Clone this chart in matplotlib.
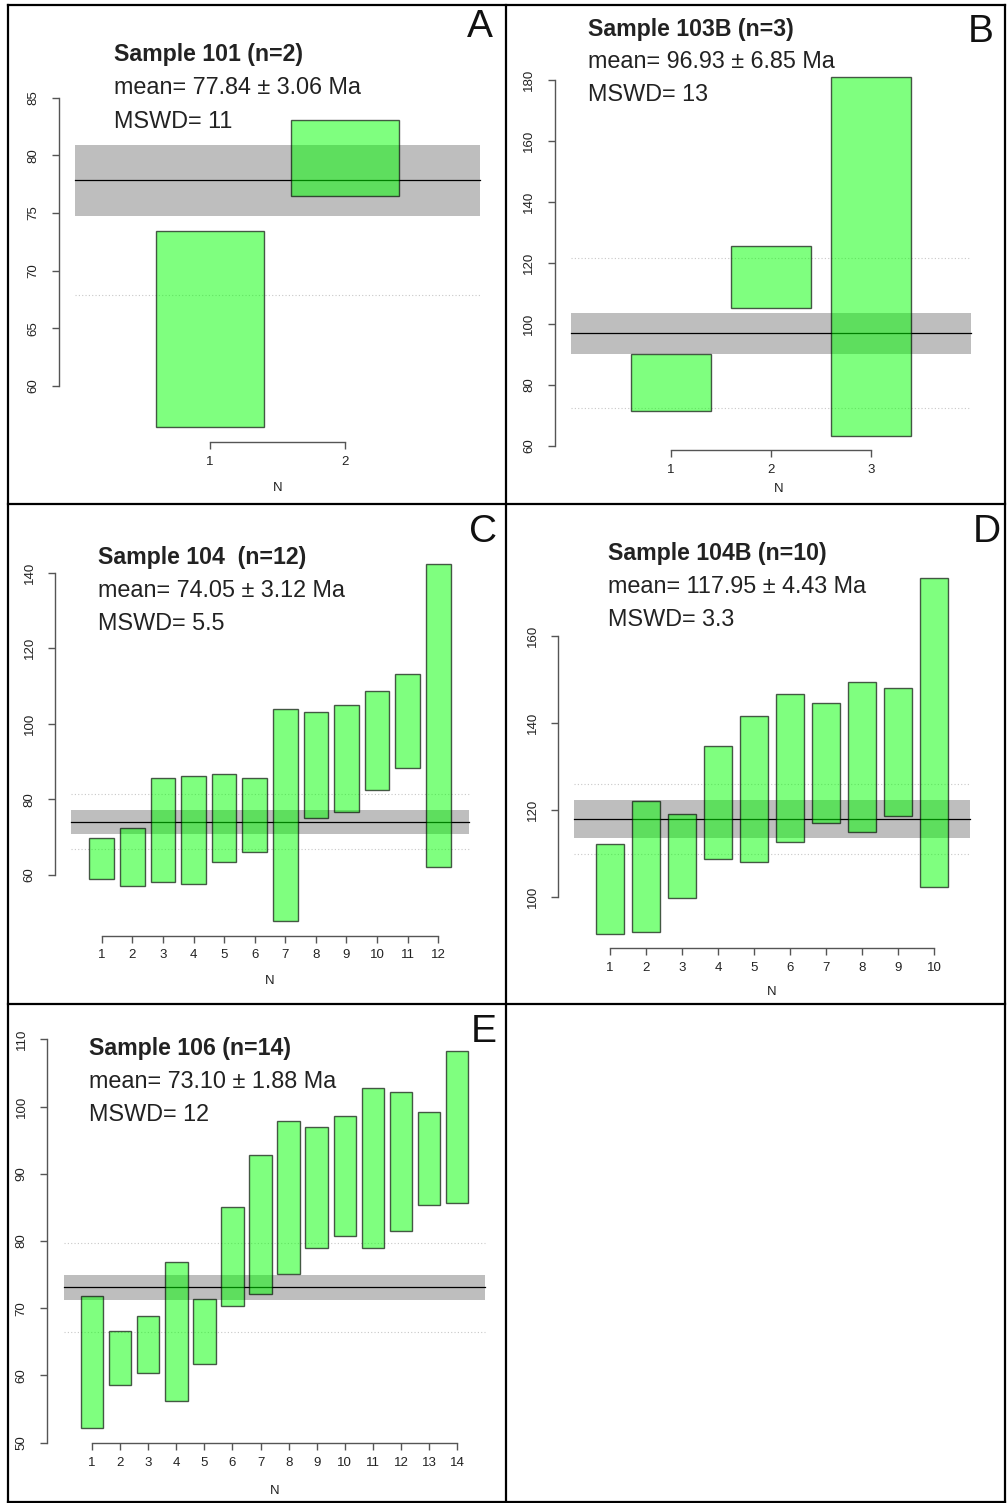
import numpy as np
import matplotlib
matplotlib.use("Agg")
import matplotlib.pyplot as plt
from matplotlib.lines import Line2D

plt.rcParams['font.family'] = ['Liberation Sans', 'DejaVu Sans']

W, H = 1008, 1503

# ---- data: lower / upper limits of each analysis (Ma) ----
s101_lo = [56.42, 76.47]
s101_hi = [73.44, 83.07]

s103b_lo = [71.38, 105.29, 63.40]
s103b_hi = [90.19, 125.63, 181.20]

s104_lo = [59.03, 57.00, 58.24, 57.71, 63.35, 66.00, 47.74, 75.00, 76.76, 82.49, 88.31, 62.03]
s104_hi = [69.79, 72.35, 85.76, 86.20, 86.64, 85.67, 103.84, 103.04, 104.90, 108.69, 113.27, 142.20]

s104b_lo = [91.56, 92.02, 99.69, 108.67, 107.98, 112.74, 116.96, 114.96, 118.57, 102.38]
s104b_hi = [112.28, 122.02, 119.10, 134.68, 141.66, 146.65, 144.58, 149.49, 148.18, 173.35]

s106_lo = [52.13, 58.53, 60.36, 56.15, 61.65, 70.38, 72.17, 75.04, 79.01, 80.79, 78.91, 81.49, 85.41, 85.65]
s106_hi = [71.82, 66.61, 68.89, 76.88, 71.42, 85.11, 92.84, 97.90, 97.01, 98.60, 102.71, 102.21, 99.19, 108.21]

# weighted means, uncertainties, MSWD and dotted-line spread
titles = ["Sample 101 (n=2)", "Sample 103B (n=3)", "Sample 104  (n=12)",
          "Sample 104B (n=10)", "Sample 106 (n=14)"]
means = [77.84, 96.93, 74.05, 117.95, 73.10]
errs = [3.06, 6.85, 3.12, 4.43, 1.88]
mswd_labels = ["11", "13", "5.5", "3.3", "12"]
spreads = [9.98, 24.6, 7.3, 8.0, 6.6]
letters = ["A", "B", "C", "D", "E"]
yticks = [np.arange(60, 86, 5), np.arange(60, 181, 20), np.arange(60, 141, 20),
          np.arange(100, 161, 20), np.arange(50, 111, 10)]

lows = [s101_lo, s103b_lo, s104_lo, s104b_lo, s106_lo]
highs = [s101_hi, s103b_hi, s104_hi, s104b_hi, s106_hi]

# ---- layout: y ranges and axes boxes (pixels: left, right, top, bottom) ----
ylims = [(55.1, 86.5), (58.69, 185.91), (43.96, 145.98), (88.29, 176.62), (49.89, 110.45)]
boxes = [(58.8, 496.2, 80.4, 442.4),
         (554.7, 986.7, 62.3, 449.9),
         (55.2, 484.8, 550.1, 935.6),
         (558.2, 985.9, 564.1, 947.8),
         (47.1, 502.0, 1036.3, 1443.4)]
text_pos = [(114, (55, 88, 121)),
            (588.3, (29.3, 61.7, 94.3)),
            (97.7, (557.3, 590.7, 623.3)),
            (608.3, (553.3, 586.7, 619.0)),
            (89.3, (1048.3, 1081.0, 1114.3))]
letter_pos = [(480, 27), (981, 31.7), (483, 531.7), (986.7, 531.7), (483.3, 1031.7)]
nlabel_pos = [(277.7, 487.7), (778.3, 489.3), (270, 980.7), (771.7, 992.3), (275, 1491)]


def fx(px):
    return px / W


def fy(py):
    return 1 - py / H


fig = plt.figure(figsize=(W / 100, H / 100), dpi=100)
fig.patch.set_facecolor('white')

txt_col = '#222222'
axis_col = '#555555'

for i in range(5):
    lo = np.array(lows[i])
    hi = np.array(highs[i])
    n = len(lo)
    x = np.arange(1, n + 1)
    m, e, s = means[i], errs[i], spreads[i]

    l, r, t, b = boxes[i]
    ax = fig.add_axes([fx(l), fy(b), (r - l) / W, (b - t) / H])
    ax.set_facecolor('none')

    xs = [0, n + 1]
    ax.fill_between(xs, m - e, m + e, color='#bebebe', lw=0, zorder=1)
    for yy in (m - s, m + s):
        ax.plot(xs, [yy, yy], color='#c8c8c8', ls=(0, (1, 2)), lw=0.8, zorder=1.5)
    ax.plot(xs, [m, m], color='black', lw=0.9, zorder=2)
    ax.bar(x, hi - lo, bottom=lo, width=0.8, color=(0, 1, 0, 0.5),
           edgecolor=(0, 0, 0, 0.65), lw=1.0, zorder=3)

    xr = n + 1
    ax.set_xlim(-0.04 * xr, 1.04 * xr)
    ax.set_ylim(*ylims[i])

    ax.set_xticks(x)
    ax.set_xticklabels([str(v) for v in x])
    ax.set_yticks(yticks[i])
    ax.set_yticklabels([str(v) for v in yticks[i]])
    for sp in ('top', 'right'):
        ax.spines[sp].set_visible(False)
    ax.spines['left'].set_bounds(yticks[i][0], yticks[i][-1])
    ax.spines['bottom'].set_bounds(1, n)
    for sp in ('left', 'bottom'):
        ax.spines[sp].set_color(axis_col)
        ax.spines[sp].set_linewidth(1.0)
    ax.tick_params(axis='both', length=5, width=1.0, color=axis_col,
                   labelsize=9.5, labelcolor=txt_col)
    ax.tick_params(axis='x', pad=5)
    ax.tick_params(axis='y', pad=9, labelrotation=90)
    for lab in ax.get_yticklabels():
        lab.set_verticalalignment('center')

    # annotation block
    tx, (y1, y2, y3) = text_pos[i]
    fig.text(fx(tx), fy(y1), titles[i], fontsize=16.7, fontweight='bold',
             color=txt_col, ha='left', va='center')
    fig.text(fx(tx), fy(y2), f"mean= {m:.2f} \u00b1 {e:.2f} Ma", fontsize=16.8,
             color=txt_col, ha='left', va='center')
    fig.text(fx(tx), fy(y3), f"MSWD= {mswd_labels[i]}", fontsize=16.8,
             color=txt_col, ha='left', va='center')
    lx, ly = letter_pos[i]
    fig.text(fx(lx), fy(ly), letters[i], fontsize=28, color='#111111',
             ha='center', va='center')
    nx, ny = nlabel_pos[i]
    fig.text(fx(nx), fy(ny), "N", fontsize=9.5, color=txt_col,
             ha='center', va='center')

# panel frame
lw_frame = 1.6
x0, x1, y0, y1 = 8, 1005, 5, 1502
frame = [((x0, x1), (y0, y0)), ((x0, x1), (y1, y1)),
         ((x0, x0), (y0, y1)), ((x1, x1), (y0, y1)),
         ((506, 506), (y0, y1)), ((x0, x1), (504, 504)), ((x0, x1), (1004, 1004))]
for (xa, xb), (ya, yb) in frame:
    fig.add_artist(Line2D([fx(xa), fx(xb)], [fy(ya), fy(yb)], color='black',
                          lw=lw_frame, transform=fig.transFigure))

fig.savefig("out.png", dpi=100, facecolor='white')
